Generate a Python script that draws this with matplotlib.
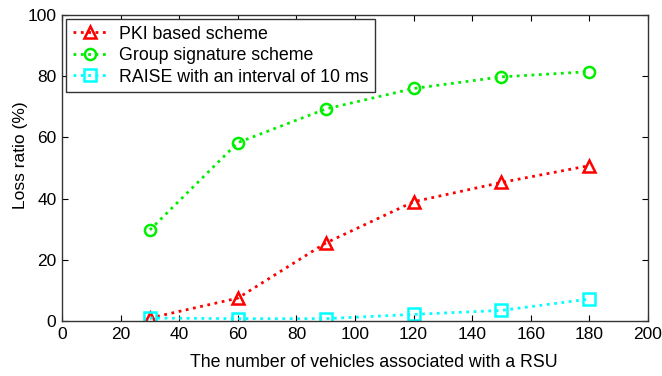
import matplotlib
matplotlib.use('Agg')
import matplotlib.pyplot as plt

# data
vehicles = [30, 60, 90, 120, 150, 180]
pki_loss = [1.0, 7.5, 25.5, 39.0, 45.3, 50.8]
group_loss = [29.8, 58.3, 69.3, 76.0, 79.8, 81.5]
raise_loss = [1.0, 0.8, 0.8, 2.2, 3.5, 7.2]

labels = ["PKI based scheme", "Group signature scheme",
          "RAISE with an interval of 10 ms"]
xticks = [0, 20, 40, 60, 80, 100, 120, 140, 160, 180, 200]
yticks = [0, 20, 40, 60, 80, 100]

plt.rcParams['font.family'] = ['Liberation Sans', 'DejaVu Sans']

fig = plt.figure(figsize=(6.62, 3.76), dpi=100)
ax = fig.add_axes([0.0937, 0.146, 0.885, 0.814])

ax.plot(vehicles, pki_loss, ':', color='#ff0000', lw=2, marker='^',
        ms=9, mfc='none', mew=1.8, label=labels[0])
ax.plot(vehicles, group_loss, ':', color='#00ee00', lw=2, marker='o',
        ms=8, mfc='none', mew=1.8, label=labels[1])
ax.plot(vehicles, raise_loss, ':', color='#00ffff', lw=2, marker='s',
        ms=9, mfc='none', mew=1.8, label=labels[2])

ax.set_xlim(0, 200)
ax.set_ylim(0, 100)
ax.set_xticks(xticks)
ax.set_yticks(yticks)
ax.tick_params(direction='in', top=True, right=True, labelsize=12.5,
               length=4, width=0.8, pad=4)
for s in ax.spines.values():
    s.set_linewidth(1.0)
    s.set_color('#333333')

ax.set_xlabel("The number of vehicles associated with a RSU", fontsize=12.8)
ax.xaxis.set_label_coords(0.532, -0.108)
ax.set_ylabel("Loss ratio (%)", fontsize=12.5,
              family=['Liberation Sans Narrow', 'Liberation Sans'])
ax.yaxis.set_label_coords(-0.058, 0.542)

leg = ax.legend(loc='upper left', fontsize=12.8, fancybox=False,
                framealpha=1, edgecolor='#333333', borderaxespad=0.25,
                handlelength=2.0, handletextpad=0.6, labelspacing=0.25,
                borderpad=0.35)
leg.get_frame().set_linewidth(1.0)

fig.savefig('out.png', dpi=100)
